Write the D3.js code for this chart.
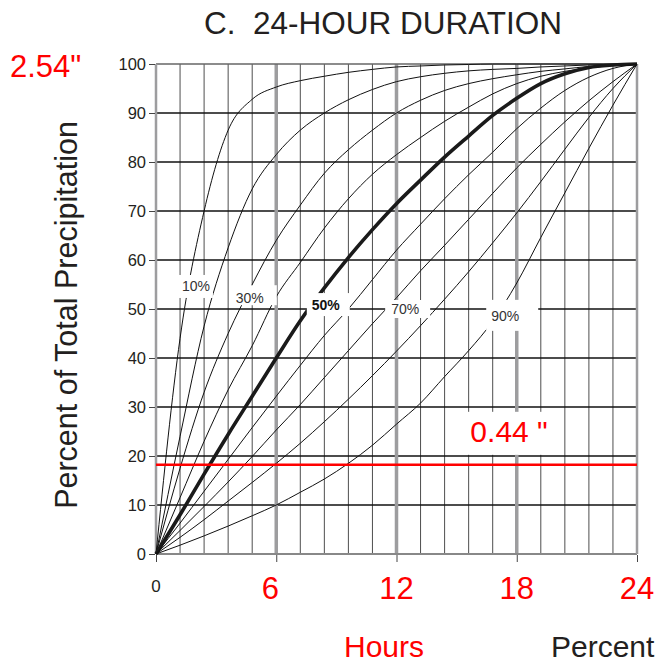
<!DOCTYPE html>
<html>
<head>
<meta charset="utf-8">
<script src="https://cdn.jsdelivr.net/npm/d3@7/dist/d3.min.js"></script>
<style>
  body { margin: 0; background: #fff; }
  svg { display: block; font-family: "Liberation Sans", Arial, Helvetica, sans-serif; }
</style>
</head>
<body>
<svg id="chart" width="658" height="666"></svg>
<script>
// cumulative percent of storm time, one point per grid column (5 %)
const timePct = [0, 5, 10, 15, 20, 25, 30, 35, 40, 45, 50, 55, 60, 65, 70, 75, 80, 85, 90, 95, 100];

// cumulative percent of total precipitation
const p10 = [0, 44, 70, 86.5, 92.8, 95.3, 96.6, 97.5, 98.3, 98.9, 99.4, 99.6, 99.8, 99.9, 100, 100, 100, 100, 100, 100, 100];
const p20 = [0, 24, 46.5, 62.5, 74.5, 81.5, 86.5, 90, 92.7, 94.8, 96.4, 97.4, 98.1, 98.6, 98.9, 99.1, 99.4, 99.6, 99.8, 99.9, 100];
const p30 = [0, 17.5, 33, 45, 55, 64, 71.2, 77.7, 82.5, 86.5, 90, 92.6, 94.6, 96, 97, 97.8, 98.5, 99, 99.5, 99.8, 100];
const p40 = [0, 11.5, 23, 33.5, 42.5, 52.5, 59.5, 66.5, 72.5, 77.5, 81.5, 85, 88.3, 91.2, 93.9, 96, 97.5, 98.5, 99.2, 99.7, 100];
const p50 = [0, 8, 16.3, 24.4, 32.2, 40, 47.6, 54.3, 60.5, 66.2, 71.5, 76.3, 81, 85.3, 89.5, 93, 96, 98, 99.3, 99.8, 100];
const p60 = [0, 6.3, 12.8, 19.3, 25.8, 32.2, 38.5, 44.6, 50, 56, 62, 67.3, 72.5, 77.4, 82, 86.8, 91, 94.6, 97.3, 99.1, 100];
const p70 = [0, 4.8, 9.7, 14.7, 19.9, 25.3, 30.5, 36, 41.5, 47, 52.3, 57.8, 63, 68.3, 73.6, 78.8, 83.6, 88.2, 92.5, 96.4, 100];
const p80 = [0, 3.4, 7, 10.8, 14.6, 18.5, 22.6, 27, 31.6, 36.4, 41.4, 46.6, 52, 57.6, 63.5, 69.6, 76, 82.6, 89.1, 95, 100];
const p90 = [0, 1.8, 3.7, 5.7, 7.8, 10, 12.6, 15.3, 18.5, 22.2, 26.5, 30.8, 36.2, 41.5, 47.5, 55.3, 64.6, 73.7, 82.8, 91.6, 100];

const curveNames = ["10%", "20%", "30%", "40%", "50%", "60%", "70%", "80%", "90%"];
const curveValues = [p10, p20, p30, p40, p50, p60, p70, p80, p90];

const pctTicks = [0, 10, 20, 30, 40, 50, 60, 70, 80, 90, 100];
const hourTicks = [0, 25, 50, 75, 100];
const hourLabels = ["0", "6", "12", "18", "24"];

const totalDepth = '2.54"';
const markDepth = '0.44 "';
const markPct = 18.2;

const svg = d3.select("#chart");

const x = d3.scaleLinear().domain([0, 100]).range([156, 637]);
const y = d3.scaleLinear().domain([0, 100]).range([554, 64]);

// --- grid ---
const grid = svg.append("g");

grid.selectAll(".vthin")
    .data(timePct.filter(t => t % 25 !== 0))
    .join("line")
    .attr("x1", d => x(d)).attr("x2", d => x(d))
    .attr("y1", y(0)).attr("y2", y(100))
    .attr("stroke", "#3a3a3a")
    .attr("stroke-width", 0.9);

grid.selectAll(".hline")
    .data(pctTicks.filter(v => v > 0 && v < 100))
    .join("line")
    .attr("x1", x(0)).attr("x2", x(100))
    .attr("y1", d => y(d)).attr("y2", d => y(d))
    .attr("stroke", "#111")
    .attr("stroke-width", 1.3);

grid.selectAll(".vthick")
    .data([25, 50, 75])
    .join("line")
    .attr("x1", d => x(d)).attr("x2", d => x(d))
    .attr("y1", y(0)).attr("y2", y(100))
    .attr("stroke", "#9d9d9f")
    .attr("stroke-width", 3.5);

// frame
grid.append("line")
    .attr("x1", x(0)).attr("x2", x(100)).attr("y1", y(100)).attr("y2", y(100))
    .attr("stroke", "#666").attr("stroke-width", 1.5);
grid.append("line")
    .attr("x1", x(0)).attr("x2", x(100)).attr("y1", y(0)).attr("y2", y(0))
    .attr("stroke", "#888").attr("stroke-width", 2);
grid.selectAll(".vborder")
    .data([0, 100])
    .join("line")
    .attr("x1", d => x(d)).attr("x2", d => x(d))
    .attr("y1", y(0)).attr("y2", y(100))
    .attr("stroke", "#9d9d9f")
    .attr("stroke-width", 2.5);

// --- axes ---
const yAxis = svg.append("g")
    .attr("transform", "translate(" + (x(0) - 1) + ",0)")
    .call(d3.axisLeft(y).tickValues(pctTicks).tickSize(6).tickPadding(3).tickSizeOuter(0));
yAxis.select(".domain").remove();
yAxis.selectAll("line").attr("stroke", "#444");
yAxis.selectAll("text")
    .attr("font-size", 16.5)
    .attr("fill", "#231f20");

const xAxis = svg.append("g")
    .attr("transform", "translate(0," + (y(0) + 1) + ")")
    .call(d3.axisBottom(x).tickValues(hourTicks).tickSize(7).tickFormat(""));
xAxis.select(".domain").remove();
xAxis.selectAll("line").attr("stroke", "#444");

svg.selectAll(".hourlabel")
    .data(hourTicks)
    .join("text")
    .attr("x", (d, i) => x(d) + (i === 1 ? -6 : 0))
    .attr("y", (d, i) => i === 0 ? 592 : 599)
    .attr("text-anchor", "middle")
    .attr("font-size", (d, i) => i === 0 ? 17 : 31)
    .attr("fill", (d, i) => i === 0 ? "#231f20" : "#ff0000")
    .text((d, i) => hourLabels[i]);

// --- curves ---
const line = d3.line()
    .x((d, i) => x(timePct[i]))
    .y(d => y(d))
    .curve(d3.curveMonotoneX);

svg.append("g")
    .selectAll("path")
    .data(curveValues)
    .join("path")
    .attr("d", line)
    .attr("fill", "none")
    .attr("stroke", (d, i) => i === 4 ? "#1a1a1a" : "#111")
    .attr("stroke-width", (d, i) => i === 4 ? 3.6 : 1)
    .attr("stroke-linejoin", "round");

// rainfall depth line
svg.append("line")
    .attr("x1", x(0)).attr("x2", x(100))
    .attr("y1", y(markPct)).attr("y2", y(markPct))
    .attr("stroke", "#ff0000")
    .attr("stroke-width", 2.6);

// --- curve labels on white patches ---
// [curve index, time %, precip %, box left, right, top, bottom offsets]
const labelSpots = [
    [0, 8.3, 54.7, -17, 17, -11, 12],
    [2, 19.5, 52.2, -18, 27, -13, 7],
    [4, 35.3, 50.8, -19, 24, -12, 11],
    [6, 51.8, 50.0, -20, 25, -9, 9],
    [8, 72.6, 48.6, -19, 33, -16, 15]
];

const labels = svg.append("g")
    .selectAll("g")
    .data(labelSpots)
    .join("g")
    .attr("transform", d => "translate(" + x(d[1]) + "," + y(d[2]) + ")");

labels.append("rect")
    .attr("x", d => d[3])
    .attr("y", d => d[5])
    .attr("width", d => d[4] - d[3])
    .attr("height", d => d[6] - d[5])
    .attr("fill", "#fff");

labels.append("text")
    .attr("text-anchor", "middle")
    .attr("dy", "0.36em")
    .attr("font-size", 14)
    .attr("font-weight", d => d[0] === 4 ? "bold" : "normal")
    .attr("fill", d => d[0] === 4 ? "#111" : "#333")
    .text(d => curveNames[d[0]]);

// depth annotation
const depthNote = svg.append("g")
    .attr("transform", "translate(" + x(73.4) + "," + (y(markPct) - 23) + ")");
depthNote.append("rect")
    .attr("x", -43).attr("y", -30).attr("width", 87).attr("height", 43)
    .attr("fill", "#fff");
depthNote.append("text")
    .attr("text-anchor", "middle")
    .attr("font-size", 30)
    .attr("fill", "#ff0000")
    .text(markDepth);

// --- titles ---
svg.append("text")
    .attr("x", 383).attr("y", 34)
    .attr("text-anchor", "middle")
    .attr("font-size", 31.5)
    .attr("fill", "#231f20")
    .attr("xml:space", "preserve")
    .text("C.  24-HOUR DURATION");

svg.append("text")
    .attr("x", 10).attr("y", y(100) + 13)
    .attr("font-size", 31)
    .attr("fill", "#ff0000")
    .text(totalDepth);

svg.append("text")
    .attr("transform", "translate(77," + 315 + ") rotate(-90)")
    .attr("text-anchor", "middle")
    .attr("font-size", 30.5)
    .attr("fill", "#231f20")
    .text("Percent of Total Precipitation");

svg.append("text")
    .attr("x", 384).attr("y", 657)
    .attr("text-anchor", "middle")
    .attr("font-size", 30)
    .attr("fill", "#ff0000")
    .text("Hours");

svg.append("text")
    .attr("x", 551).attr("y", 657)
    .attr("font-size", 30)
    .attr("fill", "#231f20")
    .text("Percent");
</script>
</body>
</html>
